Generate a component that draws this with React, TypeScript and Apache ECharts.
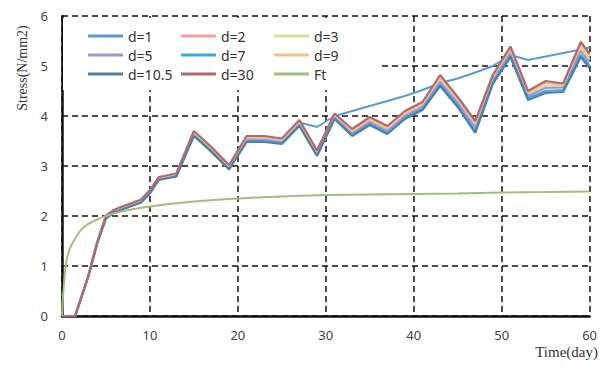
import React, { useEffect, useRef } from "react";
import * as echarts from "echarts";

const days = [0, 1.5, 3, 4, 5, 6, 7, 9, 10, 11, 13, 15, 17, 19, 21, 23, 25, 27, 29, 31, 33, 35, 37, 39, 41, 43, 45, 47, 49, 51, 53, 55, 57, 59, 60];

const d1 = [0, 0, 0.8, 1.46, 1.98, 2.11, 2.17, 2.3, 2.49, 2.75, 2.82, 3.65, 3.34, 2.98, 3.55, 3.55, 3.5, 3.87, 3.78, 4.0, 4.1, 4.2, 4.3, 4.4, 4.52, 4.66, 4.75, 4.87, 5.0, 5.22, 5.12, 5.19, 5.26, 5.33, 5.37];
const d2 = [0, 0, 0.8, 1.47, 2.0, 2.12, 2.19, 2.32, 2.51, 2.77, 2.84, 3.68, 3.37, 3.01, 3.59, 3.59, 3.54, 3.91, 3.3, 4.04, 3.72, 3.97, 3.79, 4.09, 4.27, 4.8, 4.37, 3.88, 4.81, 5.37, 4.49, 4.68, 4.64, 5.46, 5.22];
const d3 = [0, 0, 0.8, 1.46, 1.98, 2.11, 2.17, 2.3, 2.48, 2.75, 2.82, 3.65, 3.34, 2.98, 3.55, 3.55, 3.5, 3.87, 3.27, 4.0, 3.67, 3.91, 3.73, 4.03, 4.21, 4.72, 4.3, 3.8, 4.76, 5.3, 4.44, 4.6, 4.6, 5.36, 5.13];
const d5 = [0, 0, 0.8, 1.46, 1.97, 2.1, 2.16, 2.29, 2.47, 2.74, 2.81, 3.64, 3.32, 2.97, 3.53, 3.53, 3.48, 3.85, 3.25, 3.98, 3.65, 3.88, 3.7, 4.0, 4.18, 4.68, 4.26, 3.76, 4.72, 5.26, 4.4, 4.56, 4.57, 5.3, 5.07];
const d7 = [0, 0, 0.8, 1.45, 1.96, 2.09, 2.15, 2.28, 2.46, 2.73, 2.8, 3.62, 3.3, 2.95, 3.5, 3.5, 3.46, 3.82, 3.22, 3.96, 3.62, 3.84, 3.66, 3.96, 4.14, 4.63, 4.21, 3.7, 4.67, 5.21, 4.36, 4.5, 4.52, 5.22, 5.0];
const d9 = [0, 0, 0.8, 1.47, 1.99, 2.11, 2.18, 2.31, 2.5, 2.76, 2.83, 3.67, 3.36, 3.0, 3.57, 3.57, 3.52, 3.89, 3.28, 4.02, 3.7, 3.94, 3.76, 4.06, 4.24, 4.77, 4.34, 3.85, 4.79, 5.34, 4.47, 4.66, 4.62, 5.42, 5.19];
const d10_5 = [0, 0, 0.8, 1.45, 1.95, 2.08, 2.14, 2.27, 2.45, 2.72, 2.79, 3.6, 3.28, 2.93, 3.48, 3.48, 3.44, 3.8, 3.2, 3.94, 3.6, 3.82, 3.64, 3.94, 4.12, 4.6, 4.18, 3.66, 4.64, 5.18, 4.32, 4.46, 4.48, 5.18, 4.96];
const d30 = [0, 0, 0.8, 1.48, 2.01, 2.13, 2.2, 2.33, 2.52, 2.78, 2.85, 3.7, 3.38, 3.02, 3.6, 3.6, 3.55, 3.92, 3.31, 4.05, 3.74, 3.98, 3.8, 4.1, 4.28, 4.82, 4.38, 3.9, 4.82, 5.39, 4.5, 4.7, 4.65, 5.48, 5.25];

const ftDays = [0, 0.3, 0.7, 1.5, 2.5, 4, 5, 7, 10, 15, 20, 25, 30, 35, 40, 45, 50, 55, 60];
const ftValues = [0, 0.8, 1.25, 1.55, 1.78, 1.93, 2.0, 2.1, 2.19, 2.29, 2.35, 2.39, 2.42, 2.43, 2.44, 2.45, 2.47, 2.48, 2.49];

const seriesNames = ["d=1", "d=2", "d=3", "d=5", "d=7", "d=9", "d=10.5", "d=30", "Ft"];
const seriesColors = ["#5B9BD5", "#F4A0A0", "#D4E39C", "#A393D8", "#3DA9E0", "#F5BF8A", "#4F7FA8", "#B06A70", "#A3BE7A"];
const seriesValues = [d1, d2, d3, d5, d7, d9, d10_5, d30];

const xTicks = [0, 10, 20, 30, 40, 50, 60];
const yTicks = [0, 1, 2, 3, 4, 5, 6];

export default function App() {
  const ref = useRef<HTMLDivElement>(null);
  useEffect(() => {
    if (!ref.current) return;
    const chart = echarts.init(ref.current, null, { renderer: "svg" });
    const lineSeries: any[] = seriesValues.map((vals, i) => ({
      name: seriesNames[i],
      type: "line",
      data: days.map((d, j) => [d, vals[j]]),
      symbol: "none",
      lineStyle: { color: seriesColors[i], width: i === 0 ? 2 : 2.2 },
      itemStyle: { color: seriesColors[i] },
    }));
    lineSeries.push({
      name: "Ft",
      type: "line",
      smooth: true,
      data: ftDays.map((d, j) => [d, ftValues[j]]),
      symbol: "none",
      lineStyle: { color: seriesColors[8], width: 2 },
      itemStyle: { color: seriesColors[8] },
    });
    chart.setOption({
      animation: false,
      backgroundColor: "#fff",
      grid: { left: 62, right: 7, top: 16, bottom: 56 },
      legend: {
        data: seriesNames,
        left: 63,
        top: 18,
        width: 282,
        padding: [10, 14, 8, 25],
        backgroundColor: "#fff",
        icon: "rect",
        itemWidth: 35,
        itemHeight: 3,
        itemGap: 3,
        textStyle: { fontFamily: "Noto Sans", fontSize: 14, color: "#333", width: 50, lineHeight: 16 },
      },
      xAxis: {
        type: "value",
        min: 0,
        max: 60,
        interval: 10,
        axisLine: { show: true, onZero: false, lineStyle: { color: "#111", width: 2.5 } },
        axisTick: { show: false },
        axisLabel: { fontFamily: "Noto Sans", fontSize: 13, color: "#444", margin: 12, customValues: xTicks },
        splitLine: { show: true, lineStyle: { color: "#111", type: [6, 4], width: 1.5 } },
      },
      yAxis: {
        type: "value",
        min: 0,
        max: 6,
        interval: 1,
        axisLine: { show: true, lineStyle: { color: "#111", width: 2.5 } },
        axisTick: { show: false },
        axisLabel: { fontFamily: "Noto Sans", fontSize: 13, color: "#444", margin: 14, customValues: yTicks },
        splitLine: { show: true, lineStyle: { color: "#111", type: [6, 4], width: 1.5 } },
      },
      graphic: [
        {
          type: "text",
          x: 22,
          y: 68,
          rotation: Math.PI / 2,
          style: {
            text: "Stress(N/mm2)",
            fontFamily: "Liberation Serif",
            fontSize: 14,
            fill: "#333",
            textAlign: "center",
            textVerticalAlign: "middle",
          },
        },
        {
          type: "text",
          x: 598,
          y: 352,
          style: {
            text: "Time(day)",
            fontFamily: "Liberation Serif",
            fontSize: 15,
            fill: "#333",
            textAlign: "right",
            textVerticalAlign: "middle",
          },
        },
      ],
      series: lineSeries,
    });
    return () => chart.dispose();
  }, []);
  return <div ref={ref} style={{ width: 600, height: 372, position: "absolute", left: 0, top: 0 }} />;
}
